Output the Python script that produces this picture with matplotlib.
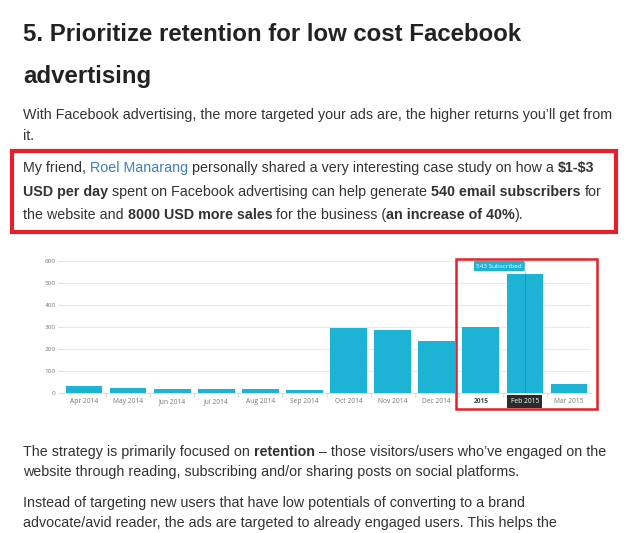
import matplotlib
matplotlib.use("Agg")
import matplotlib.pyplot as plt
from matplotlib.patches import Rectangle
from matplotlib.transforms import blended_transform_factory

W, H = 637, 533

months = ["Apr 2014", "May 2014", "Jun 2014", "Jul 2014", "Aug 2014", "Sep 2014",
          "Oct 2014", "Nov 2014", "Dec 2014", "2015", "Feb 2015", "Mar 2015"]
subscribed = [33, 23, 17, 17, 17, 14, 297, 288, 238, 300, 543, 40]
y_ticks = [0, 100, 200, 300, 400, 500, 600]

BODY = "#333333"
LINK = "#3d7fc1"
BAR = "#1db3d4"
RED = "#e5202a"
FONT = "Liberation Sans"
SIZE = 10.27

fig = plt.figure(figsize=(W / 100, H / 100), dpi=100)
fig.patch.set_facecolor("white")
renderer = fig.canvas.get_renderer()


def fx(x):
    return x / W


def fy(y):
    return 1 - y / H


def space_w(size=SIZE):
    a = fig.text(0, 0, "a a", fontsize=size, family=FONT)
    b = fig.text(0, 0, "aa", fontsize=size, family=FONT)
    w = a.get_window_extent(renderer).width - b.get_window_extent(renderer).width
    a.remove()
    b.remove()
    return w


SP = space_w()


def rich(x, y, runs, size=SIZE):
    # runs drawn one after another; a leading " " marks a word gap
    for text, bold, color in runs:
        if text.startswith(" "):
            x += SP
            text = text[1:]
        t = fig.text(fx(x), fy(y), text, fontsize=size, family=FONT,
                     fontweight="bold" if bold else "normal", color=color,
                     va="baseline", ha="left", parse_math=False)
        x += t.get_window_extent(renderer).width


# heading
fig.text(fx(23), fy(41), "5. Prioritize retention for low cost Facebook", fontsize=17.25,
         family=FONT, fontweight="bold", color="#222222", va="baseline")
fig.text(fx(23), fy(83), "advertising", fontsize=17.25,
         family=FONT, fontweight="bold", color="#222222", va="baseline")

rich(23, 119, [("With Facebook advertising, the more targeted your ads are, the higher returns you\u2019ll get from", False, BODY)])
rich(23, 140, [("it.", False, BODY)])

rich(23, 172, [("My friend,", False, BODY), (" Roel Manarang", False, LINK),
               (" personally shared a very interesting case study on how a", False, BODY),
               (" $1-$3", True, BODY)])
rich(23, 196, [("USD per day", True, BODY),
               (" spent on Facebook advertising can help generate", False, BODY),
               (" 540 email subscribers", True, BODY), (" for", False, BODY)])
rich(23, 219, [("the website and", False, BODY), (" 8000 USD more sales", True, BODY),
               (" for the business (", False, BODY), ("an increase of 40%", True, BODY),
               (").", False, BODY)])

fig.patches.append(Rectangle((fx(12), fy(232)), fx(616) - fx(12), fy(151) - fy(232),
                             transform=fig.transFigure, fill=False, edgecolor=RED,
                             linewidth=3))

rich(23, 456, [("The strategy is primarily focused on", False, BODY), (" retention", True, BODY),
               (" \u2013 those visitors/users who\u2019ve engaged on the", False, BODY)])
rich(23, 476, [("website through reading, subscribing and/or sharing posts on social platforms.", False, BODY)])
rich(23, 507, [("Instead of targeting new users that have low potentials of converting to a brand", False, BODY)])
rich(23, 527, [("advocate/avid reader, the ads are targeted to already engaged users. This helps the", False, BODY)])

# chart
ax = fig.add_axes([fx(62), fy(393), fx(591) - fx(62), fy(261) - fy(393)])
xs = list(range(len(months)))
ax.bar(xs, subscribed, width=0.83, color=BAR, zorder=3)
ax.set_xlim(-0.5, len(months) - 0.5)
ax.set_ylim(0, 600)
ax.set_yticks(y_ticks)
ax.set_yticklabels([str(v) for v in y_ticks], fontsize=4.6, color="#777777", family="Open Sans")
ax.tick_params(axis="y", length=3, color="#dddddd", pad=1.5)
ax.set_xticks([i + 0.5 for i in xs[:-1]])
ax.set_xticklabels([])
ax.tick_params(axis="x", length=3, color="#dddddd")
ax.grid(axis="y", color="#eaeaea", linewidth=0.8, zorder=0)
for s in ["top", "right", "left"]:
    ax.spines[s].set_visible(False)
ax.spines["bottom"].set_color("#dddddd")
ax.set_facecolor("white")

# category labels on a common baseline
trans = blended_transform_factory(ax.transData, fig.transFigure)
for i, name in enumerate(months):
    kw = dict(fontsize=4.8, color="#777777", family="Open Sans", ha="center",
              va="baseline", transform=trans)
    if name == "2015":
        kw.update(fontweight="bold", color="#444444")
    if name == "Feb 2015":
        kw.update(color="white", bbox=dict(boxstyle="square,pad=0.5", facecolor="#2b2b2b",
                                           edgecolor="none"))
    ax.text(i, fy(403), name, **kw)

# hover crosshair and tooltip on Feb 2015
ax.axvline(10, color="#d0d0d0", linewidth=0.8, zorder=2)
ax.plot([10, 10], [0, subscribed[10]], color="#139cb9", linewidth=0.8, zorder=4)
ax.annotate(f"{subscribed[10]} Subscribed", xy=(10, subscribed[10]), xytext=(9.42, 577),
            fontsize=4.6, color="white", family="Open Sans", ha="center", va="center",
            bbox=dict(boxstyle="round,pad=0.5,rounding_size=0.3", facecolor=BAR,
                      edgecolor="white", linewidth=0.8), zorder=6)

fig.patches.append(Rectangle((fx(456), fy(409)), fx(597) - fx(456), fy(259) - fy(409),
                             transform=fig.transFigure, fill=False, edgecolor=RED,
                             linewidth=1.8))

fig.savefig("out.png", dpi=100)
